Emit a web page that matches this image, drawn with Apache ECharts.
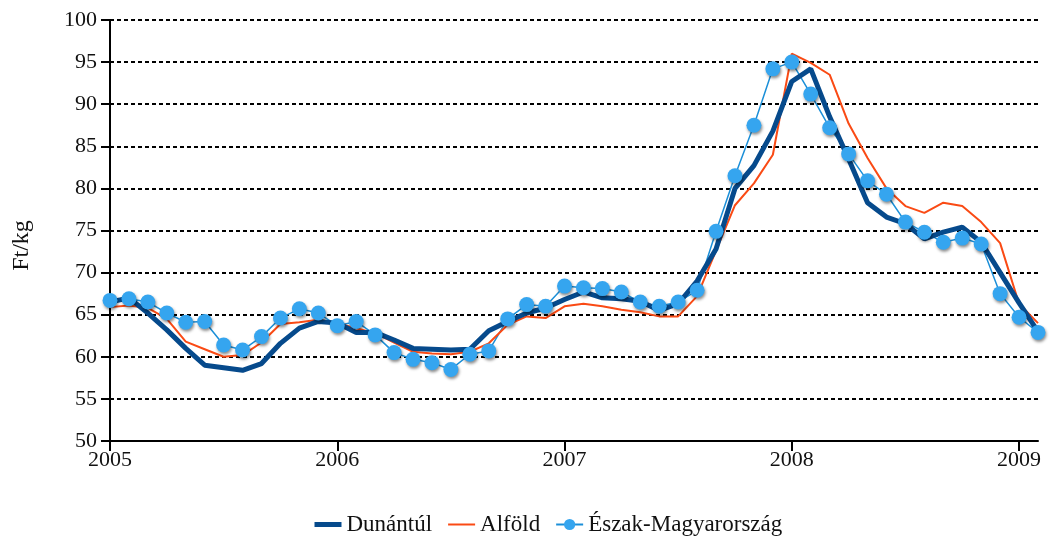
<!DOCTYPE html>
<html>
<head>
<meta charset="utf-8">
<script src="https://cdn.jsdelivr.net/npm/echarts@6/dist/echarts.min.js"></script>
<style>
  html, body {margin: 0; padding: 0; background: #fff;}
  #chart {width: 1049px; height: 536px;}
</style>
</head>
<body>
<div id="chart"></div>
<script>
// havi adatok, 2005 jan - 2009 feb
const years = ['2005', '2006', '2007', '2008', '2009'];
const months = [];
years.forEach(function (y) {
    for (let m = 1; m <= 12; m++) {
        if (y === '2009' && m > 2) break;
        months.push(y + '-' + (m < 10 ? '0' + m : m));
    }
});

const dunantul = [
    66.5, 67.0, 65.2, 63.2, 61.0, 59.0, 58.7, 58.4, 59.2, 61.6, 63.4, 64.2,
    64.0, 62.9, 62.9, 62.0, 61.0, 60.9, 60.8, 60.9, 63.1, 64.2, 65.2, 65.8,
    66.8, 67.7, 67.0, 66.9, 66.6, 65.5, 66.3, 69.0, 72.8, 80.0, 82.7, 86.8,
    92.7, 94.2, 88.5, 83.5, 78.3, 76.6, 75.8, 74.0, 74.8, 75.4, 73.6, 70.0,
    66.4, 63.0
];
const alfold = [
    65.9, 66.1, 65.8, 64.5, 61.8, 60.9, 60.0, 60.2, 61.7, 63.9, 64.1, 64.4,
    64.0, 63.4, 62.8, 61.7, 60.6, 60.4, 60.3, 60.6, 61.6, 63.8, 64.8, 64.6,
    66.0, 66.3, 66.0, 65.6, 65.3, 64.8, 64.8, 67.2, 72.6, 78.0, 80.6, 84.0,
    96.0, 94.9, 93.5, 87.7, 83.6, 80.0, 77.9, 77.1, 78.3, 77.9, 76.0, 73.5,
    66.3, 64.0
];
const eszak = [
    66.7, 66.9, 66.5, 65.2, 64.1, 64.2, 61.4, 60.8, 62.4, 64.6, 65.7, 65.2,
    63.7, 64.2, 62.6, 60.5, 59.7, 59.3, 58.5, 60.3, 60.7, 64.5, 66.2, 66.0,
    68.4, 68.2, 68.1, 67.7, 66.5, 66.0, 66.5, 67.9, 74.9, 81.5, 87.5, 94.2,
    95.0, 91.2, 87.2, 84.1, 80.9, 79.3, 76.0, 74.8, 73.6, 74.1, 73.4, 67.5,
    64.7, 62.9
];

const font = 'Liberation Serif';

let myChart = echarts.init(document.getElementById('chart'));
myChart.setOption({
    animation: false,
    textStyle: {fontFamily: font},
    grid: {left: 110, right: 11, top: 20, bottom: 95},
    legend: {
        top: 508,
        left: 307,
        itemWidth: 27,
        itemHeight: 14,
        itemGap: 15,
        textStyle: {fontFamily: font, fontSize: 23, color: '#111'},
        data: [
            {name: 'Dunántúl', itemStyle: {opacity: 0}, lineStyle: {width: 5}},
            {name: 'Alföld', itemStyle: {opacity: 0}},
            {name: 'Észak-Magyarország'}
        ]
    },
    xAxis: {
        type: 'category',
        boundaryGap: false,
        data: months,
        axisLine: {lineStyle: {color: '#000', width: 2}},
        axisTick: {interval: 11, length: 10, lineStyle: {color: '#000', width: 2}},
        axisLabel: {
            interval: 11,
            margin: 8,
            fontSize: 22,
            color: '#111',
            formatter: function (v) { return v.substr(0, 4); }
        },
        splitLine: {show: false}
    },
    yAxis: {
        type: 'value',
        min: 50,
        max: 100,
        interval: 5,
        name: 'Ft/kg',
        nameLocation: 'middle',
        nameGap: 76,
        nameTextStyle: {fontFamily: font, fontSize: 24, color: '#111', padding: [0, 30, 0, 0]},
        axisLine: {show: true, lineStyle: {color: '#000', width: 2}},
        axisTick: {show: true, length: 9, lineStyle: {color: '#000', width: 2}},
        axisLabel: {fontSize: 22, color: '#111', margin: 13},
        splitLine: {lineStyle: {color: '#000', width: 2, type: [4, 3]}}
    },
    series: [
        {
            name: 'Észak-Magyarország',
            type: 'line',
            data: eszak,
            symbol: 'circle',
            symbolSize: 15,
            showAllSymbol: true,
            lineStyle: {color: '#1b8fd8', width: 1.5},
            itemStyle: {
                color: '#35a5ef',
                shadowColor: 'rgba(0,0,0,0.45)',
                shadowBlur: 3,
                shadowOffsetX: 1,
                shadowOffsetY: 2
            }
        },
        {
            name: 'Alföld',
            type: 'line',
            data: alfold,
            symbol: 'none',
            lineStyle: {color: '#fa4a14', width: 2},
            itemStyle: {color: '#fa4a14'}
        },
        {
            name: 'Dunántúl',
            type: 'line',
            data: dunantul,
            symbol: 'none',
            lineStyle: {color: '#064a8c', width: 5},
            itemStyle: {color: '#064a8c'}
        }
    ]
});
</script>
</body>
</html>
